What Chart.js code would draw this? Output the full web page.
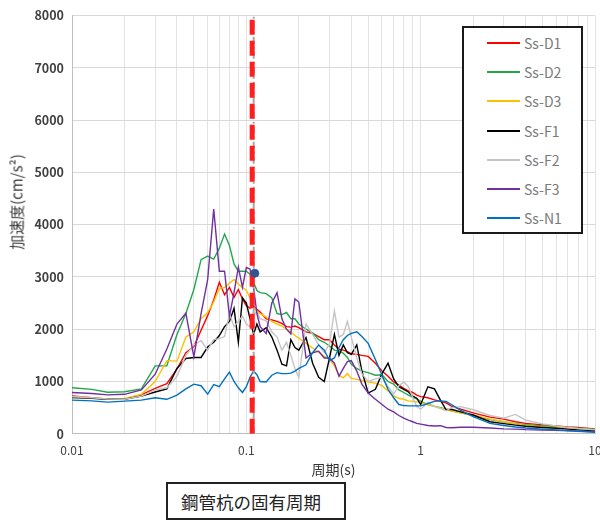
<!DOCTYPE html>
<html lang="ja">
<head>
<meta charset="utf-8">
<title>加速度応答スペクトル</title>
<script src="https://cdn.jsdelivr.net/npm/chart.js@4.4.1/dist/chart.umd.min.js"></script>
<style>
  html, body { margin: 0; padding: 0; background: #fff; overflow: hidden; }
  #wrap { position: relative; width: 600px; height: 522px; font-family: "Noto Sans CJK JP", "Noto Sans", sans-serif; }
  #chart { position: absolute; left: 0; top: 0; }
  .y-title {
    position: absolute; left: 16px; top: 202px;
    transform: translate(-50%, -50%) rotate(-90deg);
    white-space: nowrap; font-size: 15px; color: #3a3a3a;
  }
  .legend {
    position: absolute; left: 462px; top: 26px; width: 121px; height: 208px;
    box-sizing: border-box; border: 2px solid #1a1a1a; background: #fff;
    padding-top: 0.4px;
  }
  .legend .row { display: flex; align-items: center; height: 29.2px; }
  .legend .swatch { margin-left: 23px; width: 33px; height: 2px; }
  .legend .name { margin-left: 4px; font-size: 14px; color: #7a7a7a; }
  .note {
    position: absolute; left: 166px; top: 482px; width: 180px; height: 38px;
    box-sizing: border-box; border: 2px solid #222; background: #fff;
    display: flex; align-items: center; padding-left: 13px;
    font-size: 17.5px; color: #222; white-space: nowrap;
  }
</style>
</head>
<body>
<div id="wrap">
  <canvas id="chart" width="600" height="522"></canvas>
  <div class="y-title">加速度(cm/s²)</div>
  <div class="legend" id="legend"></div>
  <div class="note">鋼管杭の固有周期</div>
</div>
<script>
// periods (s) shared by all spectra
const periods = [
  0.01, 0.013, 0.016, 0.02, 0.025, 0.03, 0.035, 0.04, 0.045, 0.05,
  0.055, 0.06, 0.065, 0.07, 0.075, 0.08, 0.085, 0.09, 0.095, 0.1,
  0.105, 0.11, 0.115, 0.12, 0.13, 0.14, 0.15, 0.16, 0.17, 0.18,
  0.19, 0.2, 0.22, 0.24, 0.26, 0.28, 0.3, 0.32, 0.34, 0.36,
  0.38, 0.4, 0.43, 0.46, 0.5, 0.55, 0.6, 0.65, 0.7, 0.75,
  0.8, 0.85, 0.9, 0.95, 1.0, 1.1, 1.2, 1.3, 1.4, 1.5,
  1.7, 2.0, 2.5, 3, 3.5, 4, 5, 6, 7, 8,
  10
];

// acceleration (cm/s2)
const ssD1 = [
  725, 690, 660, 660, 745, 870, 960, 1240, 1550, 1670,
  1980, 2260, 2560, 2900, 2660, 2800, 2610, 2760, 2580, 2450,
  2400, 2430, 2380, 2330, 2200, 2180, 2150, 2110, 2050, 2040,
  2060, 2030, 1950, 1920, 1860, 1800, 1800, 1700, 1620, 1600,
  1570, 1530, 1520, 1500, 1480, 1350, 1200, 1100, 990, 930,
  870, 820, 790, 740, 710, 690, 650, 620, 590, 530,
  470, 400, 320, 280, 230, 200, 170, 150, 130, 120,
  95
];
const ssD2 = [
  880, 850, 795, 805, 860, 1300, 1300, 1900, 2300, 2760,
  3330, 3400, 3340, 3550, 3820, 3600, 3250, 3110, 3110, 3110,
  3050, 2900, 2740, 2700, 2680, 2600, 2300, 2280, 2320, 2200,
  2200, 2100, 2000, 1930, 1800, 1750, 1680, 1600, 1590, 1540,
  1460, 1330, 1250, 1200, 1170, 1120, 1130, 1000, 950, 840,
  790, 740, 700, 670, 620, 560, 525, 500, 470, 440,
  400, 350, 270, 230, 195, 175, 150, 132, 118, 105,
  88
];
const ssD3 = [
  710, 690, 665, 675, 755, 1000, 1400, 1390, 1850, 1950,
  2200, 2320, 2520, 2780, 2800, 2880, 2950, 2860, 2800, 2740,
  2600, 2450, 2330, 2300, 2230, 2150, 2100, 2060, 2000, 1950,
  1880, 1830, 1730, 1640, 1560, 1480, 1420, 1300, 1120, 1070,
  1150, 1060, 1040, 1020, 990, 970, 920, 820, 720, 680,
  660, 630, 620, 610, 600, 560, 530, 490, 460, 440,
  400, 360, 280, 230, 190, 160, 130, 118, 105, 95,
  80
];
const ssF1 = [
  695, 680, 662, 660, 720, 800, 860, 1250, 1440, 1460,
  1460, 1660, 1750, 1880, 2050, 2150, 2400, 1750, 2600, 2500,
  2200, 1900, 2100, 1950, 2030, 1850, 1600, 1330, 1300, 1800,
  1650, 1600, 1840, 1350, 1080, 1000, 1450, 1900, 1500, 1700,
  1550, 1520, 1700, 1200, 780, 850, 1150, 1350, 1050, 900,
  850, 800, 720, 680, 560, 900, 860, 640, 460, 470,
  420, 360, 230, 195, 165, 145, 120, 105, 90, 75,
  57
];
const ssF2 = [
  710, 690, 665, 660, 720, 840, 880, 1100, 1500, 1700,
  1780, 1600, 1800, 1820, 1860, 2300, 2050, 2150, 2250, 2100,
  2050, 2250, 2350, 2200, 2160, 1950, 1850, 1600, 1750, 1500,
  1250, 1080, 2100, 1900, 1700, 1550, 1720, 2350, 1850, 1900,
  2150, 1850, 1450, 1150, 1000, 1050, 1080, 900, 760, 920,
  990, 900, 700, 520, 470, 600, 520, 480, 440, 500,
  520, 460, 350, 300, 370, 260, 190, 150, 120, 100,
  75
];
const ssF3 = [
  790, 770, 745, 755, 840, 1140, 1620, 2100, 2310, 1470,
  2300, 2950, 4300, 3110, 3110, 2250, 2700, 3190, 2800, 3180,
  3150, 2800, 2300, 2050, 1920, 2500, 2700, 2200, 2000, 1910,
  2580, 2520, 1450, 1550, 1580, 1450, 1450, 1350, 1100, 1250,
  1380, 1400, 1200, 950, 780, 660, 560, 470, 420, 350,
  300, 260, 230, 200, 185, 160, 150, 155, 120, 115,
  125, 125, 110, 95, 90, 80, 72, 65, 58, 52,
  45
];
const ssN1 = [
  645, 630, 605, 625, 645, 690, 660, 740, 860, 950,
  920, 760, 940, 900, 1050, 1180, 1000, 880, 790, 900,
  1080, 1200, 1130, 1000, 990, 1120, 1170, 1150, 1150, 1160,
  1200, 1250, 1320, 1550, 1700, 1600, 1400, 1450, 1650, 1800,
  1880, 1920, 1950, 1860, 1730, 1420, 1120, 850, 690, 560,
  540, 535, 535, 535, 535, 580, 620, 630, 620, 560,
  450, 330, 200, 160, 130, 110, 90, 75, 60, 50,
  30
];

const seriesNames = ['Ss-D1', 'Ss-D2', 'Ss-D3', 'Ss-F1', 'Ss-F2', 'Ss-F3', 'Ss-N1'];
const seriesValues = [ssD1, ssD2, ssD3, ssF1, ssF2, ssF3, ssN1];
const seriesColors = ['#ff0000', '#22a84a', '#ffc000', '#000000', '#c4c4c4', '#7030a0', '#0070c0'];

// natural period of the steel pipe pile and the marked response point
const pilePeriod = 0.108;
const guidePeriod = 0.1102;
const markPoint = { x: 0.1118, y: 3070 };

const xTickLabels = [0.01, 0.1, 1, 10];
const yMin = 0, yMax = 8000, yStep = 1000;

// grid lines at 1..9 x each decade
const xGridValues = [];
xTickLabels.forEach((d, i) => {
  if (i === xTickLabels.length - 1) { xGridValues.push(d); return; }
  for (let m = 1; m <= 9; m++) xGridValues.push(d * m);
});

const fontFamily = '"Noto Sans CJK JP", "Noto Sans", sans-serif';

const spectra = seriesNames.map((name, i) => ({
  label: name,
  data: periods.map((p, j) => ({ x: p, y: seriesValues[i][j] })),
  borderColor: seriesColors[i],
  backgroundColor: seriesColors[i],
  borderWidth: 1.4,
  pointRadius: 0,
  tension: 0,
  order: 3 + (seriesNames.length - 1 - i)
}));

const datasets = [
  {
    label: 'marker',
    data: [markPoint],
    showLine: false,
    pointRadius: 4,
    pointBackgroundColor: '#2f5597',
    pointBorderColor: '#2f5597',
    order: 0
  },
  {
    label: 'pile',
    data: [{ x: pilePeriod, y: yMin }, { x: pilePeriod, y: yMax }],
    borderColor: '#ff1f1f',
    borderWidth: 5,
    borderDash: [15, 6],
    pointRadius: 0,
    order: 1
  },
  {
    label: 'guide',
    data: [{ x: guidePeriod, y: yMin }, { x: guidePeriod, y: yMax }],
    borderColor: '#a6a6a6',
    borderWidth: 2,
    borderDash: [7, 3, 2, 3],
    pointRadius: 0,
    order: 2
  },
  ...spectra
];

new Chart(document.getElementById('chart'), {
  type: 'line',
  data: { datasets },
  options: {
    responsive: false,
    animation: false,
    layout: { padding: { top: 12, right: 3, bottom: 44, left: 0 } },
    plugins: {
      legend: { display: false },
      tooltip: { enabled: false }
    },
    scales: {
      x: {
        type: 'logarithmic',
        min: 0.01,
        max: 10,
        afterBuildTicks: (scale) => { scale.ticks = xGridValues.map(v => ({ value: v })); },
        afterFit: (scale) => {
          scale.paddingRight = 0;
          scale.height = scale.height - 9;
        },
        ticks: {
          autoSkip: false,
          maxRotation: 0,
          padding: 9,
          color: '#404040',
          font: { family: fontFamily, size: 12 },
          callback: (v) => xTickLabels.includes(v) ? String(v) : ''
        },
        grid: { color: '#e3e3e3', drawTicks: false },
        border: { color: '#bfbfbf' },
        title: {
          display: true,
          text: '周期(s)',
          color: '#333',
          font: { family: fontFamily, size: 14 },
          padding: { top: 4, bottom: 0 }
        }
      },
      y: {
        min: yMin,
        max: yMax,
        afterFit: (scale) => { scale.width = 72; },
        ticks: {
          stepSize: yStep,
          padding: 8,
          color: '#404040',
          font: { family: fontFamily, size: 12.5, weight: 'bold' },
          callback: (v) => String(v)
        },
        grid: { color: '#d9d9d9', drawTicks: false },
        border: { color: '#bfbfbf' }
      }
    }
  }
});

// legend box
const legend = document.getElementById('legend');
seriesNames.forEach((name, i) => {
  const row = document.createElement('div');
  row.className = 'row';
  row.innerHTML = '<span class="swatch" style="background:' + seriesColors[i] + '"></span>' +
    '<span class="name">' + name + '</span>';
  legend.appendChild(row);
});
</script>
</body>
</html>
